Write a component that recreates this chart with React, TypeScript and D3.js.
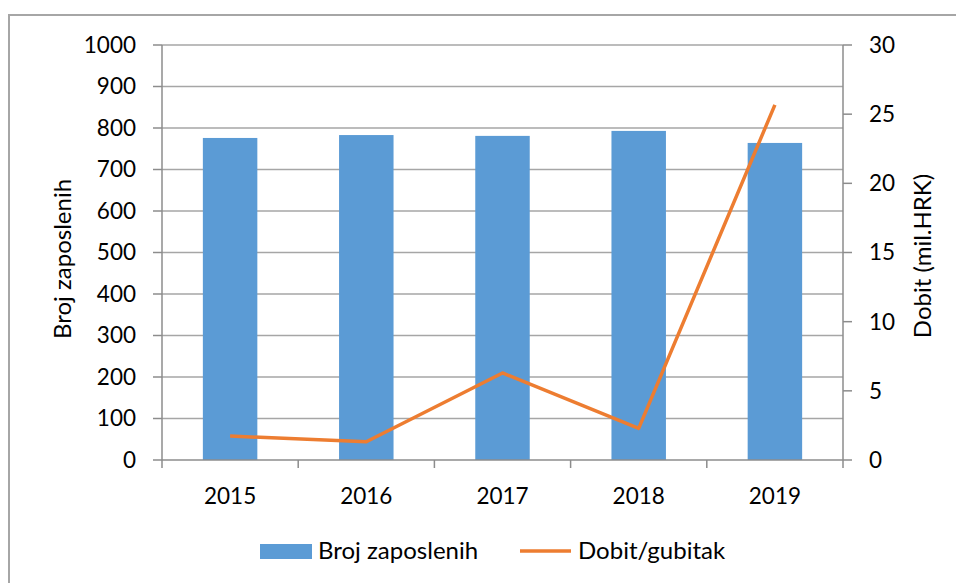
import React from "react";
import * as d3 from "d3";

const years = ["2015", "2016", "2017", "2018", "2019"];
const employees = [776, 783, 781, 793, 764];
const profit = [1.73, 1.32, 6.29, 2.29, 25.67];
const leftTicks = [0, 100, 200, 300, 400, 500, 600, 700, 800, 900, 1000];
const rightTicks = [0, 5, 10, 15, 20, 25, 30];

const W = 956;
const H = 583;
const plot = { left: 162, right: 843, top: 45, bottom: 460 };
const FONT = "Lato, 'Open Sans', sans-serif";
const NUM_SIZE = 22.5;
const TXT_SIZE = 24;

export default function App() {
  const x = d3.scaleBand<string>().domain(years).range([plot.left, plot.right]).paddingInner(0.6).paddingOuter(0.3);
  const xc = d3.scaleBand<string>().domain(years).range([plot.left, plot.right]);
  const yL = d3.scaleLinear().domain([0, 1000]).range([plot.bottom, plot.top]);
  const yR = d3.scaleLinear().domain([0, 30]).range([plot.bottom, plot.top]);
  const line = d3
    .line<number>()
    .x((_, i) => (xc(years[i]) as number) + xc.bandwidth() / 2)
    .y((d) => yR(d));

  const gridColor = "#A6A6A6";
  const axisColor = "#8C8C8C";

  return (
    <svg
      width={W}
      height={H}
      style={{ position: "fixed", left: 0, top: 0, background: "#fff" }}
      fontFamily={FONT}
    >
      <rect x={9} y={15} width={1000} height={1000} fill="#fff" stroke="#A6A6A6" strokeWidth={2} />
      {leftTicks.slice(1).map((t) => (
        <line key={"g" + t} x1={plot.left} x2={plot.right} y1={yL(t)} y2={yL(t)} stroke={gridColor} strokeWidth={1.5} />
      ))}
      {years.map((yr, i) => (
        <rect
          key={yr}
          x={x(yr)}
          width={x.bandwidth()}
          y={yL(employees[i])}
          height={plot.bottom - yL(employees[i])}
          fill="#5B9BD5"
        />
      ))}
      <line x1={plot.left} x2={plot.left} y1={plot.top} y2={plot.bottom} stroke={axisColor} strokeWidth={1.5} />
      <line x1={plot.right} x2={plot.right} y1={plot.top} y2={plot.bottom} stroke={axisColor} strokeWidth={1.5} />
      <line x1={plot.left} x2={plot.right} y1={plot.bottom} y2={plot.bottom} stroke={axisColor} strokeWidth={1.5} />
      {leftTicks.map((t) => (
        <g key={"l" + t}>
          <line x1={plot.left - 9} x2={plot.left} y1={yL(t)} y2={yL(t)} stroke={axisColor} strokeWidth={1.5} />
          <text x={136} y={yL(t)} dy="0.35em" textAnchor="end" fontSize={NUM_SIZE} fill="#000">
            {t}
          </text>
        </g>
      ))}
      {rightTicks.map((t) => (
        <g key={"r" + t}>
          <line x1={plot.right} x2={plot.right + 9} y1={yR(t)} y2={yR(t)} stroke={axisColor} strokeWidth={1.5} />
          <text x={869} y={yR(t)} dy="0.35em" textAnchor="start" fontSize={NUM_SIZE} fill="#000">
            {t}
          </text>
        </g>
      ))}
      {years.map((yr) => (
        <line
          key={"xt" + yr}
          x1={xc(yr) as number}
          x2={xc(yr) as number}
          y1={plot.bottom}
          y2={plot.bottom + 8}
          stroke={axisColor}
          strokeWidth={1.5}
        />
      ))}
      <line x1={plot.right} x2={plot.right} y1={plot.bottom} y2={plot.bottom + 8} stroke={axisColor} strokeWidth={1.5} />
      {years.map((yr) => (
        <text key={"xl" + yr} x={(xc(yr) as number) + xc.bandwidth() / 2} y={504} textAnchor="middle" fontSize={NUM_SIZE} fill="#000">
          {yr}
        </text>
      ))}
      <path d={line(profit) || ""} fill="none" stroke="#ED7D31" strokeWidth={3.5} strokeLinejoin="round" />
      <text transform="translate(71,259) rotate(-90)" textAnchor="middle" fontSize={TXT_SIZE} fill="#000">
        Broj zaposlenih
      </text>
      <text transform="translate(931,256) rotate(-90)" textAnchor="middle" fontSize={TXT_SIZE} fill="#000">
        Dobit (mil.HRK)
      </text>
      <rect x={260} y={544} width={52} height={15} fill="#5B9BD5" />
      <text x={318} y={559} fontSize={TXT_SIZE} fill="#000">
        Broj zaposlenih
      </text>
      <line x1={520} x2={571} y1={551} y2={551} stroke="#ED7D31" strokeWidth={3.5} />
      <text x={578} y={559} fontSize={TXT_SIZE} fill="#000">
        Dobit/gubitak
      </text>
    </svg>
  );
}
